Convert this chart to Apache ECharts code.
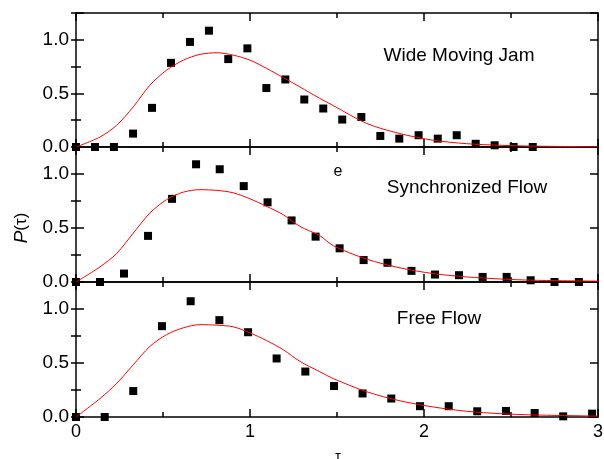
<!DOCTYPE html>
<html>
<head>
<meta charset="utf-8">
<script src="https://cdn.jsdelivr.net/npm/echarts@6/dist/echarts.min.js"></script>
<style>
  html, body {
    margin: 0;
    padding: 0;
    background: #fff;
  }

  #chart {
    width: 604px;
    height: 459px;
  }
</style>
</head>
<body>
<div id="chart"></div>
<script>
// region data

// Wide Moving Jam
const jamTau = [0, 0.109, 0.218, 0.328, 0.437, 0.546, 0.655, 0.764, 0.875, 0.985, 1.094, 1.203, 1.312,
  1.421, 1.53, 1.64, 1.749, 1.858, 1.969, 2.079, 2.188, 2.297, 2.406, 2.515, 2.625]
const jamP = [0, 0, 0, 0.125, 0.365, 0.785, 0.98, 1.085, 0.82, 0.92, 0.55, 0.63, 0.443,
  0.359, 0.256, 0.28, 0.103, 0.078, 0.11, 0.078, 0.11, 0.03, 0.016, 0, 0]

// Synchronized Flow
const syncTau = [0, 0.138, 0.276, 0.414, 0.552, 0.69, 0.826, 0.964, 1.101, 1.239, 1.377, 1.515, 1.653,
  1.79, 1.928, 2.063, 2.201, 2.337, 2.475, 2.613, 2.75, 2.89]
const syncP = [0, 0, 0.078, 0.427, 0.77, 1.09, 1.044, 0.888, 0.738, 0.57, 0.42, 0.312, 0.203,
  0.178, 0.103, 0.069, 0.063, 0.047, 0.047, 0.016, 0, 0]

// Free Flow
const freeTau = [0, 0.165, 0.329, 0.494, 0.659, 0.824, 0.989, 1.153, 1.318, 1.483, 1.647, 1.812, 1.977,
  2.142, 2.306, 2.471, 2.636, 2.8, 2.966]
const freeP = [0, 0, 0.24, 0.841, 1.072, 0.897, 0.785, 0.542, 0.421, 0.287, 0.218, 0.171, 0.1,
  0.1, 0.053, 0.056, 0.037, 0.006, 0.031]

// fitted curves
const fitTau = [0, 0.138, 0.234, 0.329, 0.425, 0.521, 0.617, 0.713, 0.81, 0.904, 1.0, 1.096, 1.191,
  1.287, 1.4, 1.48, 1.67, 1.862, 2.053, 2.245, 2.437, 2.63, 3.0]
const jamFit = [0, 0.093, 0.203, 0.374, 0.577, 0.717, 0.81, 0.864, 0.879, 0.857, 0.81, 0.733, 0.648,
  0.56, 0.455, 0.385, 0.22, 0.125, 0.063, 0.031, 0.016, 0.008, 0.002]
const syncFit = [0, 0.14, 0.265, 0.452, 0.639, 0.763, 0.832, 0.855, 0.848, 0.826, 0.77, 0.7, 0.623,
  0.515, 0.43, 0.335, 0.212, 0.131, 0.078, 0.047, 0.028, 0.016, 0.008]
const freeFit = [0, 0.171, 0.312, 0.483, 0.654, 0.763, 0.826, 0.855, 0.85, 0.835, 0.779, 0.707, 0.623,
  0.515, 0.42, 0.355, 0.234, 0.15, 0.093, 0.053, 0.031, 0.019, 0.008]

const panelTitles = ['Wide Moving Jam', 'Synchronized Flow', 'Free Flow']

// endregion

const FONT = '"Liberation Sans", Arial, sans-serif'
const BLACK = '#000'

const panels = [
  {tau: jamTau, p: jamP, fit: jamFit},
  {tau: syncTau, p: syncP, fit: syncFit},
  {tau: freeTau, p: freeP, fit: freeFit}
]

const gridTops = [13, 147, 282]
const gridHeights = [134, 135, 135]

function pairs(xs, ys) {
  return xs.map((x, i) => [x, ys[i]])
}

const lineStyle = {color: BLACK, width: 1.5}

const grid = []
const xAxis = []
const yAxis = []
const series = []

panels.forEach((panel, i) => {
  grid.push({
    left: 76,
    right: 6,
    top: gridTops[i],
    height: gridHeights[i],
    outerBoundsMode: 'none'
  })

  // bottom and top tau axes
  for (const position of ['bottom', 'top']) {
    xAxis.push({
      gridIndex: i,
      type: 'value',
      position: position,
      min: 0,
      max: 3,
      interval: 1,
      axisLine: {show: true, onZero: false, lineStyle: lineStyle},
      axisTick: {show: true, inside: true, length: 8, lineStyle: lineStyle},
      minorTick: {show: true, splitNumber: 2, length: 5, lineStyle: lineStyle},
      axisLabel: {
        show: position === 'bottom' && i === 2,
        margin: 6,
        fontSize: 18,
        color: BLACK,
        fontFamily: FONT
      },
      splitLine: {show: false}
    })
  }

  // left / right, major + minor ticks
  for (const position of ['left', 'right']) {
    yAxis.push({
      gridIndex: i,
      type: 'value',
      position: position,
      min: 0,
      max: 1.25,
      interval: 0.5,
      axisLine: {show: true, onZero: false, lineStyle: lineStyle},
      axisTick: {show: true, inside: true, length: 8, lineStyle: lineStyle},
      axisLabel: {
        show: position === 'left',
        margin: 7,
        fontSize: 19,
        color: BLACK,
        fontFamily: FONT,
        formatter: v => v > 1.2 ? '' : v.toFixed(1)
      },
      splitLine: {show: false}
    })
    yAxis.push({
      gridIndex: i,
      type: 'value',
      position: position,
      min: 0,
      max: 1.25,
      interval: 0.25,
      axisLine: {show: false},
      axisTick: {show: true, inside: true, length: 5, lineStyle: lineStyle},
      axisLabel: {show: false},
      splitLine: {show: false}
    })
  }

  series.push({
    type: 'scatter',
    xAxisIndex: i * 2,
    yAxisIndex: i * 4,
    data: pairs(panel.tau, panel.p),
    symbol: 'rect',
    symbolSize: 8,
    itemStyle: {color: BLACK, opacity: 1},
    clip: false,
    z: 2
  })
  series.push({
    type: 'line',
    xAxisIndex: i * 2,
    yAxisIndex: i * 4,
    data: pairs(fitTau, panel.fit),
    smooth: 0.3,
    showSymbol: false,
    lineStyle: {color: '#ff0000', width: 1},
    z: 3
  })
})

function label(text, x, y, size) {
  return {
    type: 'text',
    x: x,
    y: y,
    style: {
      text: text,
      fontSize: size,
      fontFamily: FONT,
      fill: BLACK,
      align: 'center',
      verticalAlign: 'middle'
    }
  }
}

const option = {
  animation: false,
  backgroundColor: '#fff',
  grid: grid,
  xAxis: xAxis,
  yAxis: yAxis,
  series: series,
  graphic: [
    label(panelTitles[0], 459, 56, 19),
    label(panelTitles[1], 467, 188, 19),
    label('e', 338, 172, 16),
    label(panelTitles[2], 439, 319, 19),
    {
      type: 'text',
      x: 21.5,
      y: 228,
      rotation: Math.PI / 2,
      style: {
        text: '{p|P}{n|(τ)}',
        fill: BLACK,
        align: 'center',
        verticalAlign: 'middle',
        rich: {
          p: {fontSize: 19, fontStyle: 'italic', fontFamily: FONT},
          n: {fontSize: 17, fontFamily: FONT}
        }
      }
    },
    {
      type: 'text',
      x: 338,
      y: 450,
      style: {
        text: 'τ',
        fontSize: 14,
        fontFamily: FONT,
        fill: BLACK,
        align: 'center',
        verticalAlign: 'top'
      }
    }
  ]
}

const chart = echarts.init(document.getElementById('chart'))
chart.setOption(option)
</script>
</body>
</html>
